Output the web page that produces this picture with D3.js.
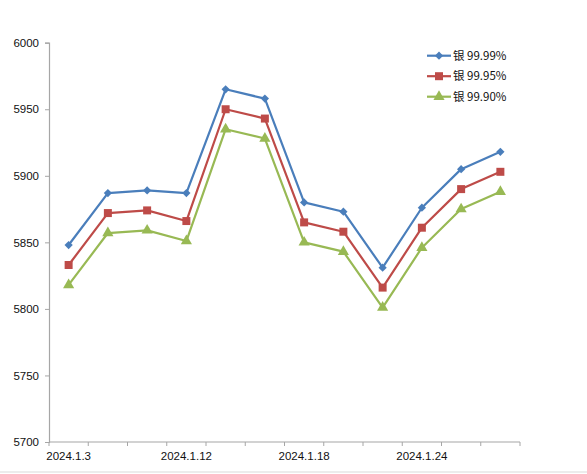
<!DOCTYPE html>
<html>
<head>
<meta charset="utf-8">
<script src="https://cdn.jsdelivr.net/npm/d3@7"></script>
<style>
  html, body { margin: 0; padding: 0; background: #fff; }
  svg { display: block; font-family: "Liberation Sans", Arial, sans-serif; }
</style>
</head>
<body>
<svg id="chart"></svg>
<script>
// x labels, only every third day is printed on the axis
const tickLabels = ["2024.1.3", "", "", "2024.1.12", "", "", "2024.1.18", "", "", "2024.1.24", "", ""];
const seriesNames = ["银 99.99%", "银 99.95%", "银 99.90%"];
const silver9999 = [5848, 5887, 5889, 5887, 5965, 5958, 5880, 5873, 5831, 5876, 5905, 5918];
const silver9995 = [5833, 5872, 5874, 5866, 5950, 5943, 5865, 5858, 5816, 5861, 5890, 5903];
const silver9990 = [5818, 5857, 5859, 5851, 5935, 5928, 5850, 5843, 5801, 5846, 5875, 5888];
const yTicks = [5700, 5750, 5800, 5850, 5900, 5950, 6000];

const width = 587;
const height = 474;
const plotLeft = 49, plotRight = 520, plotTop = 42.7, plotBottom = 442;

const colors = ["#4a7ebb", "#be4b48", "#98b954"];
// diamond = square turned 45 degrees (Excel style), not d3's tall rhombus
const symbols = [d3.symbolSquare, d3.symbolSquare, d3.symbolTriangle];
const symRotate = [45, 0, 0];
const symSizes = [34, 64, 54];

const series = [silver9999, silver9995, silver9990].map((vals, i) => ({
  name: seriesNames[i],
  values: vals,
  color: colors[i],
  symbol: symbols[i],
  rot: symRotate[i],
  size: symSizes[i]
}));

const svg = d3.select("#chart")
  .attr("width", width)
  .attr("height", height);

const xScale = d3.scaleBand()
  .domain(d3.range(tickLabels.length))
  .range([plotLeft, plotRight]);

const yScale = d3.scaleLinear()
  .domain([5700, 6000])
  .range([plotBottom, plotTop]);

// y axis
const yAxis = svg.append("g")
  .attr("transform", `translate(${plotLeft}, 0)`)
  .call(d3.axisLeft(yScale).tickValues(yTicks).tickSize(4).tickPadding(6).tickFormat(d3.format("d")));
yAxis.select(".domain").attr("stroke", "#a6a6a6").attr("stroke-width", 1.2);
yAxis.selectAll(".tick line").attr("stroke", "#a6a6a6");
yAxis.selectAll("text").attr("font-size", 11.5).attr("fill", "#111")
  .attr("font-family", "'Liberation Sans', Arial, sans-serif");

// x axis: tick marks on band edges, labels in band centres
const xAxis = svg.append("g")
  .attr("transform", `translate(0, ${plotBottom})`);
xAxis.append("line")
  .attr("x1", plotLeft).attr("x2", plotRight)
  .attr("stroke", "#a6a6a6").attr("stroke-width", 1.2);
xAxis.selectAll(".edge")
  .data(d3.range(tickLabels.length + 1))
  .enter()
  .append("line")
  .attr("class", "edge")
  .attr("x1", (d) => d < tickLabels.length ? xScale(d) : xScale(d - 1) + xScale.bandwidth())
  .attr("x2", (d) => d < tickLabels.length ? xScale(d) : xScale(d - 1) + xScale.bandwidth())
  .attr("y1", 0).attr("y2", 4)
  .attr("stroke", "#a6a6a6");
xAxis.selectAll(".lbl")
  .data(tickLabels)
  .enter()
  .append("text")
  .attr("class", "lbl")
  .attr("x", (d, i) => xScale(i) + xScale.bandwidth() / 2)
  .attr("y", 18)
  .attr("text-anchor", "middle")
  .attr("font-size", 11.5)
  .attr("fill", "#111")
  .text((d) => d);

// lines + markers
const line = d3.line()
  .x((d, i) => xScale(i) + xScale.bandwidth() / 2)
  .y((d) => yScale(d));

series.forEach((s) => {
  svg.append("path")
    .datum(s.values)
    .attr("fill", "none")
    .attr("stroke", s.color)
    .attr("stroke-width", 2.2)
    .attr("stroke-linejoin", "round")
    .attr("d", line);

  svg.selectAll(null)
    .data(s.values)
    .enter()
    .append("path")
    .attr("transform", (d, i) => `translate(${xScale(i) + xScale.bandwidth() / 2}, ${yScale(d)}) rotate(${s.rot})`)
    .attr("d", d3.symbol().type(s.symbol).size(s.size))
    .attr("fill", s.color);
});

// legend
const legend = svg.append("g").attr("transform", "translate(427, 55.7)");
series.forEach((s, i) => {
  const row = legend.append("g").attr("transform", `translate(0, ${i * 20.5})`);
  row.append("line")
    .attr("x1", 0).attr("x2", 24)
    .attr("stroke", s.color).attr("stroke-width", 2.2);
  row.append("path")
    .attr("transform", `translate(12, 0) rotate(${s.rot})`)
    .attr("d", d3.symbol().type(s.symbol).size(s.size))
    .attr("fill", s.color);
  row.append("text")
    .attr("x", 26)
    .attr("dy", "0.35em")
    .attr("font-size", 11.5)
    .attr("fill", "#111")
    .attr("font-family", "'Noto Sans CJK SC', 'Liberation Sans', sans-serif")
    .text(s.name);
});

// bottom edge of the chart frame
svg.append("line")
  .attr("x1", 0).attr("x2", width)
  .attr("y1", 472).attr("y2", 472)
  .attr("stroke", "#d9d9d9");
</script>
</body>
</html>
